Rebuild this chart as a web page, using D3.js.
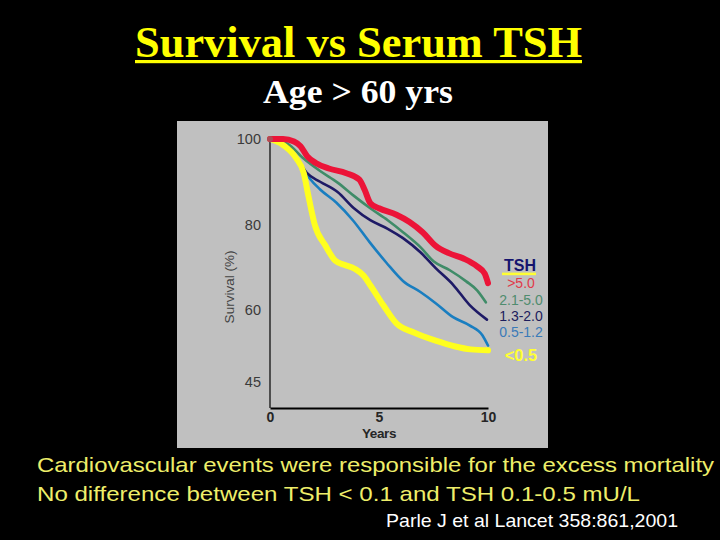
<!DOCTYPE html>
<html>
<head>
<meta charset="utf-8">
<script src="https://cdn.jsdelivr.net/npm/d3@7/dist/d3.min.js"></script>
<style>
  html, body { margin: 0; padding: 0; background: #000; }
  svg { display: block; }
</style>
</head>
<body>
<svg id="chart" width="720" height="540"></svg>
<script>
// ---------- DATA ----------
const titleText = "Survival vs Serum TSH";
const subtitleText = "Age > 60 yrs";
const noteLines = [
  "Cardiovascular events were responsible for the excess mortality",
  "No difference between TSH < 0.1 and TSH 0.1-0.5 mU/L"
];
const citationText = "Parle J et al Lancet 358:861,2001";

const xTicks = [0, 5, 10];
const yTicks = [100, 80, 60, 45];
const legendTitle = "TSH";
const legendLabels = [">5.0", "2.1-5.0", "1.3-2.0", "0.5-1.2", "<0.5"];

// [years, survival %]
const tshOver5 = [[0,100],[0.6,100],[1.1,99.4],[1.4,98.3],[1.7,96],[2.1,94.4],[2.7,93.1],[3.5,92],[4.1,90.5],[4.35,88],[4.6,85],[5.0,83.8],[5.8,82.3],[6.4,80.6],[7.0,78.2],[7.6,75],[8.2,73.3],[8.9,72],[9.5,70.2],[9.85,68.5],[10,66.3]];
const tsh21to50 = [[0,100],[0.8,98.9],[1.5,95.6],[2.3,92.5],[3.1,89.8],[3.85,86.7],[4.6,83.8],[5.4,81],[6.1,78.2],[6.9,74.7],[7.5,71.4],[8.25,69.3],[9.0,66.7],[9.5,64.6],[9.9,61.8]];
const tsh13to20 = [[0,100],[0.8,98.5],[1.25,95.4],[1.7,92],[2.3,90],[3.1,87.6],[3.85,83.8],[4.6,81],[5.4,79],[6.1,76.8],[6.9,73.5],[7.6,69.8],[8.4,65.9],[9.15,61.2],[9.95,58]];
const tsh05to12 = [[0,100],[0.8,98],[1.4,94.2],[1.85,90.6],[2.3,88.2],[3.05,85.1],[3.8,81],[4.55,76],[5.35,71],[6.1,66.8],[6.9,64.2],[7.6,61.6],[8.4,58.5],[9.15,56.8],[9.75,54.7],[10,52.6]];
const tshUnder05 = [[0,100],[0.6,98.6],[1.2,95.5],[1.55,92],[1.75,87],[1.85,84.5],[2.05,80],[2.55,75],[3.0,71.5],[3.4,70.6],[3.9,69.6],[4.3,68],[4.6,65.8],[5.2,61.1],[5.8,57.2],[6.6,55.3],[7.6,53.6],[8.5,52.4],[9.2,51.8],[10,51.6]];

// ---------- STYLE ----------
const lineColors = ["#ec1438", "#3f8c68", "#1e1a66", "#1a7ec0", "#ffff1e"];
const lineWidths = [6, 2.6, 2.6, 2.6, 6];
const legendColors = ["#e03a4a", "#4f8c6e", "#1c1c5c", "#3a7ab8", "#ffff33"];
const seriesData = [tshOver5, tsh21to50, tsh13to20, tsh05to12, tshUnder05];

const series = legendLabels.map((name, i) => ({
  name, data: seriesData[i], color: lineColors[i], width: lineWidths[i], legendColor: legendColors[i]
}));

const svg = d3.select("#chart");

// Title
svg.append("text")
  .attr("x", 358.5).attr("y", 57)
  .attr("text-anchor", "middle")
  .attr("font-family", "'Liberation Serif', 'Times New Roman', serif")
  .attr("font-weight", "bold")
  .attr("font-size", 44)
  .attr("fill", "#ffff00")
  .attr("textLength", 447)
  .attr("lengthAdjust", "spacingAndGlyphs")
  .text(titleText);
svg.append("rect")
  .attr("x", 135).attr("y", 60).attr("width", 447).attr("height", 3.2)
  .attr("fill", "#ffff00");

svg.append("text")
  .attr("x", 358).attr("y", 103)
  .attr("text-anchor", "middle")
  .attr("font-family", "'Liberation Serif', 'Times New Roman', serif")
  .attr("font-weight", "bold")
  .attr("font-size", 33)
  .attr("fill", "#ffffff")
  .attr("textLength", 190)
  .attr("lengthAdjust", "spacingAndGlyphs")
  .text(subtitleText);

// Panel
svg.append("rect")
  .attr("x", 177).attr("y", 121).attr("width", 371).attr("height", 327)
  .attr("fill", "#c0c0c0");

// Scales
const x = d3.scaleLinear().domain([0, 10]).range([270, 488]);
const y = d3.scaleLinear().domain([100, 60, 45]).range([139, 310, 382]);
const axisY = 408;

// Y axis
const yAxis = d3.axisLeft(y).tickValues(yTicks).tickSize(0).tickPadding(9);
const gy = svg.append("g").attr("transform", `translate(${x(0)},0)`).call(yAxis);
gy.select(".domain").remove();
gy.selectAll("text")
  .attr("font-family", "'Liberation Sans', Arial, sans-serif")
  .attr("font-size", 14.5)
  .attr("fill", "#3a3a3a");
svg.append("line")
  .attr("x1", x(0)).attr("x2", x(0))
  .attr("y1", y(100)).attr("y2", axisY)
  .attr("stroke", "#000").attr("stroke-width", 1.2);

svg.append("text")
  .attr("transform", `translate(234,287) rotate(-90)`)
  .attr("text-anchor", "middle")
  .attr("font-family", "'Liberation Sans', Arial, sans-serif")
  .attr("font-size", 13.5)
  .attr("fill", "#444")
  .text("Survival (%)");

// X axis
const xAxis = d3.axisBottom(x).tickValues(xTicks).tickSize(0).tickPadding(4);
const gx = svg.append("g").attr("transform", `translate(0,${axisY})`).call(xAxis);
gx.select(".domain").attr("stroke", "#000").attr("stroke-width", 2);
gx.selectAll("text")
  .attr("font-family", "'Liberation Sans', Arial, sans-serif")
  .attr("font-weight", "bold")
  .attr("font-size", 14)
  .attr("fill", "#262626");
svg.append("text")
  .attr("x", x(5)).attr("y", 438)
  .attr("text-anchor", "middle")
  .attr("font-family", "'Liberation Sans', Arial, sans-serif")
  .attr("font-weight", "bold")
  .attr("font-size", 13.5)
  .attr("letter-spacing", -0.4)
  .attr("fill", "#262626")
  .text("Years");

// Lines
const line = d3.line()
  .x(d => x(d[0])).y(d => y(d[1]))
  .curve(d3.curveMonotoneX);
const drawOrder = [3, 2, 1, 4, 0];
svg.append("g").selectAll("path")
  .data(drawOrder.map(i => series[i]))
  .join("path")
  .attr("d", d => line(d.data))
  .attr("fill", "none")
  .attr("stroke", d => d.color)
  .attr("stroke-width", d => d.width)
  .attr("stroke-linecap", "round")
  .attr("stroke-linejoin", "round");

svg.append("circle")
  .attr("cx", x(0)).attr("cy", y(100)).attr("r", 3)
  .attr("fill", "#b04a55");

// Legend
const lx = 521;
svg.append("text")
  .attr("x", lx - 1).attr("y", 271)
  .attr("text-anchor", "middle")
  .attr("font-family", "'Liberation Sans', Arial, sans-serif")
  .attr("font-size", 16)
  .attr("font-weight", "bold")
  .attr("fill", "#14146e")
  .text(legendTitle);
svg.append("rect")
  .attr("x", 502).attr("y", 272.6).attr("width", 34).attr("height", 2.6)
  .attr("fill", "#ffff33");
const legendY = [288, 305, 321, 336.5, 361];
svg.append("g").selectAll("text")
  .data(series)
  .join("text")
  .attr("x", lx)
  .attr("y", (d, i) => legendY[i])
  .attr("text-anchor", "middle")
  .attr("font-family", "'Liberation Sans', Arial, sans-serif")
  .attr("font-size", (d, i) => i === 4 ? 16.5 : 14)
  .attr("font-weight", (d, i) => i === 4 ? "bold" : "normal")
  .attr("fill", d => d.legendColor)
  .text(d => d.name);

// Notes
const noteLen = [677, 603];
const noteBase = [472, 500.5];
noteLines.forEach((t, i) => {
  svg.append("text")
    .attr("x", 37).attr("y", noteBase[i])
    .attr("font-family", "'Liberation Sans', Arial, sans-serif")
    .attr("font-size", 21)
    .attr("fill", "#eeee6a")
    .attr("textLength", noteLen[i])
    .attr("lengthAdjust", "spacingAndGlyphs")
    .text(t);
});
svg.append("text")
  .attr("x", 386).attr("y", 527)
  .attr("font-family", "'Liberation Sans', Arial, sans-serif")
  .attr("font-size", 19)
  .attr("fill", "#ffffff")
  .attr("textLength", 292)
  .attr("lengthAdjust", "spacingAndGlyphs")
  .text(citationText);
</script>
</body>
</html>
